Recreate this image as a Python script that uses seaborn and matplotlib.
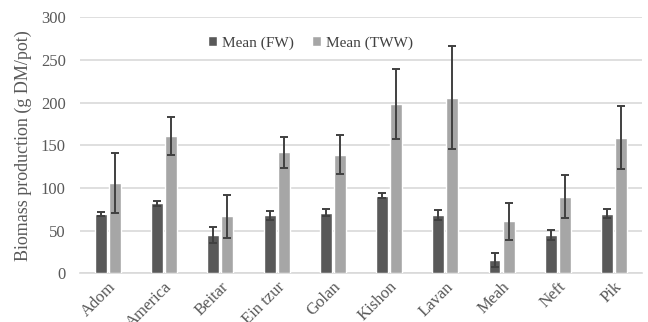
import matplotlib
matplotlib.use("Agg")
import matplotlib.pyplot as plt
import seaborn as sns
import pandas as pd
import numpy as np

categories = ["Adom", "America", "Beitar", "Ein tzur", "Golan", "Kishon", "Lavan", "Meah", "Neft", "Pik"]
mean_fw = [70, 82, 45, 68, 71, 91, 68, 16, 45, 70]
err_fw = [2.5, 3, 9, 5, 4, 3, 6, 8, 6, 5]
mean_tww = [106, 161, 67, 142, 139, 199, 206, 61, 90, 159]
err_tww = [35, 22, 25, 18, 23, 41, 60, 22, 25, 37]
series = ["Mean (FW)", "Mean (TWW)"]
colors = ["#595959", "#A6A6A6"]

sns.set_theme(style="white")
plt.rcParams["font.family"] = ["Liberation Serif", "DejaVu Serif"]

df = pd.DataFrame({
    "cat": categories * 2,
    "series": [series[0]] * len(categories) + [series[1]] * len(categories),
    "val": mean_fw + mean_tww,
})
errs = {series[0]: err_fw, series[1]: err_tww}

fig = plt.figure(figsize=(6.48, 3.22), dpi=100)
ax = fig.add_axes([0.123, 0.151, 0.868, 0.795])
sns.barplot(data=df, x="cat", y="val", hue="series", order=categories,
            hue_order=series, palette=colors, errorbar=None,
            width=0.5, gap=0.15, ax=ax, zorder=3, saturation=1)

# error bars at the bar positions drawn by seaborn
for cont, s in zip(ax.containers, series):
    xs = [p.get_x() + p.get_width() / 2 for p in cont.patches]
    ys = [p.get_height() for p in cont.patches]
    ax.errorbar(xs, ys, yerr=errs[s], fmt="none", ecolor="#404040",
                elinewidth=1.4, capsize=3, capthick=1.4, zorder=4)

ax.set_ylim(0, 300)
ax.set_xlim(-0.5, len(categories) - 0.5)
ax.set_yticks(np.arange(0, 301, 50))
ax.yaxis.grid(True, color="#D9D9D9", linewidth=1.2)
ax.set_axisbelow(True)
for sp in ["top", "right", "left"]:
    ax.spines[sp].set_visible(False)
ax.spines["bottom"].set_color("#D9D9D9")
ax.spines["bottom"].set_linewidth(1.2)
ax.tick_params(axis="y", length=0, labelsize=12, colors="#595959", pad=10)
ax.tick_params(axis="x", length=0, labelsize=12, colors="#595959", pad=4)
plt.setp(ax.get_xticklabels(), rotation=45, ha="right", rotation_mode="anchor")
ax.set_xlabel("")
ax.set_ylabel("Biomass production (g DM/pot)", fontsize=13, color="#595959", labelpad=6)

leg = ax.legend(loc="center", bbox_to_anchor=(0.41, 0.9), ncol=2, frameon=False,
                handlelength=0.6, handleheight=0.6, handletextpad=0.3,
                columnspacing=1.2, fontsize=11)
for t in leg.get_texts():
    t.set_color("#404040")

fig.savefig("out.png", dpi=100)
